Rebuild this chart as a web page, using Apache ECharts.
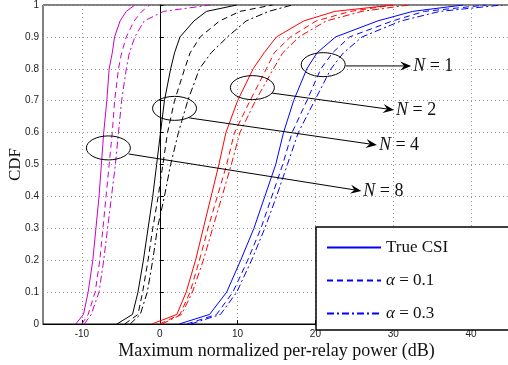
<!DOCTYPE html>
<html>
<head>
<meta charset="utf-8">
<script src="https://cdn.jsdelivr.net/npm/echarts@6/dist/echarts.min.js"></script>
<style>
  html, body { margin: 0; padding: 0; background: #fff; }
  #main { width: 508px; height: 365px; }
</style>
</head>
<body>
<div id="main"></div>
<script>
// CDF levels shared by every curve
const cdfLevels = [0, 0.03, 0.1, 0.2, 0.3, 0.4, 0.5, 0.6, 0.7, 0.8, 0.85, 0.9, 0.95, 0.98, 1];

// power (dB) at each CDF level
const n8True  = [-10.8, -9.8, -9.2, -8.6, -8.2, -7.8, -7.5, -7.2, -6.8, -6.5, -6.1, -5.8, -5.1, -4.3, -3.2];
const n8A01   = [-10.0, -9.2, -8.3, -7.7, -7.3, -6.9, -6.5, -6.1, -5.8, -5.3, -4.9, -4.3, -3.3, -2.3, -1.3];
const n8A03   = [-9.7, -8.8, -7.8, -7.2, -6.7, -6.2, -5.7, -5.3, -4.9, -4.3, -3.9, -3.2, -2.0, 0.5, 6.5];

const n4True  = [-5.5, -3.5, -2.8, -2.1, -1.5, -0.9, -0.4, 0.1, 0.6, 1.4, 1.9, 2.6, 4.4, 6.0, 9.9];
const n4A01   = [-4.5, -2.8, -2.2, -1.5, -0.9, -0.2, 0.4, 1.0, 1.9, 3.2, 3.9, 5.2, 7.7, 10.3, 14.5];
const n4A03   = [-3.8, -2.5, -1.6, -0.9, -0.3, 0.6, 1.4, 2.4, 3.6, 5.1, 6.6, 8.7, 11.1, 14.0, 17.0];

const n2True  = [-1.0, 2.2, 3.4, 4.6, 5.6, 6.6, 7.6, 8.5, 10.0, 12.0, 13.4, 15.0, 18.5, 22.5, 30.0];
const n2A01   = [0.0, 2.6, 3.9, 5.1, 6.2, 7.4, 8.6, 9.6, 11.6, 13.7, 14.7, 16.8, 20.1, 24.5, 30.0];
const n2A03   = [0.3, 2.8, 4.2, 5.6, 6.8, 8.0, 9.2, 10.3, 12.3, 14.6, 15.8, 17.9, 21.4, 26.0, 32.0];

const n1True  = [2.5, 6.4, 8.6, 10.4, 12.1, 13.5, 14.9, 15.9, 17.2, 18.9, 20.2, 22.6, 28.0, 32.5, 39.0];
const n1A01   = [3.5, 7.3, 9.4, 11.3, 13.0, 14.4, 15.8, 17.0, 18.9, 20.7, 22.2, 24.4, 29.9, 34.0, 42.0];
const n1A03   = [4.0, 7.8, 9.9, 11.8, 13.5, 15.0, 16.4, 17.8, 19.9, 22.0, 23.6, 26.0, 31.0, 36.0, 44.0];

const xTicks = [-10, 0, 10, 20, 30, 40];
const legendNames = ['True CSI', 'α = 0.1', 'α = 0.3'];

// annotations: ellipse centre, arrow start, arrow tip (data coords)
const annLabels = ['N = 1', 'N = 2', 'N = 4', 'N = 8'];
const annCentre = [[21.0, 0.813], [11.9, 0.741], [1.9, 0.676], [-6.6, 0.552]];
const annStart  = [[23.9, 0.809], [14.4, 0.724], [3.8, 0.646], [-4.0, 0.533]];
const annTip    = [[32.3, 0.809], [30.1, 0.671], [27.9, 0.561], [25.9, 0.417]];

const DASH = [6, 4];
const DASHDOT = [7, 3, 2, 3];

function pairs(xs) {
    return cdfLevels.map((p, i) => [xs[i], p]);
}
function line(name, xs, color, type) {
    return {
        name: name,
        type: 'line',
        data: pairs(xs),
        symbol: 'none',
        showSymbol: false,
        silent: true,
        lineStyle: { width: 1, color: color, type: type },
        itemStyle: { color: color }
    };
}

const MAG = '#c800c8';
const series = [
    line('n8 true', n8True, MAG, 'solid'),
    line('n8 a01', n8A01, MAG, DASH),
    line('n8 a03', n8A03, MAG, DASHDOT),
    line('n4 true', n4True, '#000', 'solid'),
    line('n4 a01', n4A01, '#000', DASH),
    line('n4 a03', n4A03, '#000', DASHDOT),
    line('n2 true', n2True, '#ff0000', 'solid'),
    line('n2 a01', n2A01, '#ff0000', DASH),
    line('n2 a03', n2A03, '#ff0000', DASHDOT),
    line(legendNames[0], n1True, '#0000ff', 'solid'),
    line(legendNames[1], n1A01, '#0000ff', DASH),
    line(legendNames[2], n1A03, '#0000ff', DASHDOT)
];

const gridLine = { show: true, lineStyle: { color: '#9a9a9a', type: [1, 3], width: 1 } };
const serif = 'Liberation Serif';

const myChart = echarts.init(document.getElementById('main'), null, { renderer: 'canvas' });
const option = {
    animation: false,
    backgroundColor: '#fff',
    grid: {
        left: 43, top: 5, right: -2, bottom: 41,
        outerBoundsMode: 'none',
        containLabel: false,
        show: true, borderColor: '#000', borderWidth: 1, backgroundColor: 'transparent'
    },
    xAxis: {
        type: 'value',
        min: -15, max: 45,
        name: 'Maximum normalized per-relay power (dB)',
        nameLocation: 'middle',
        nameGap: 18,
        nameMoveOverlap: false,
        nameTextStyle: { fontFamily: serif, fontSize: 18, color: '#111' },
        axisLine: { show: true, onZero: false, lineStyle: { color: '#000', width: 1 } },
        axisTick: { show: true, inside: true, length: 4, customValues: xTicks, lineStyle: { color: '#000' } },
        axisLabel: {
            customValues: xTicks, margin: 5,
            fontFamily: 'Liberation Sans', fontSize: 10, color: '#222',
            formatter: v => String(v)
        },
        splitLine: gridLine
    },
    yAxis: {
        type: 'value',
        min: 0, max: 1, interval: 0.1,
        name: 'CDF',
        nameLocation: 'middle',
        nameGap: 19,
        nameMoveOverlap: false,
        nameTextStyle: { fontFamily: serif, fontSize: 17, color: '#111' },
        axisLine: { show: true, lineStyle: { color: '#000', width: 1 } },
        axisTick: { show: true, inside: true, length: 4, lineStyle: { color: '#000' } },
        axisLabel: {
            margin: 4,
            fontFamily: 'Liberation Sans', fontSize: 10, color: '#222',
            formatter: v => (v === 0 || v === 1) ? String(v) : v.toFixed(1)
        },
        splitLine: gridLine
    },
    legend: {
        data: legendNames,
        orient: 'vertical',
        left: 316, top: 227,
        padding: [12, 80, 8, 10],
        itemWidth: 54, itemHeight: 14, itemGap: 16,
        backgroundColor: '#fff',
        borderColor: '#000', borderWidth: 1.5, borderRadius: 0,
        selectedMode: false,
        itemStyle: { opacity: 0 },
        formatter: name => name.startsWith('α') ? '{i|α}' + name.slice(1) : name,
        textStyle: {
            fontFamily: serif, fontSize: 17, color: '#111',
            rich: { i: { fontFamily: serif, fontSize: 17, fontStyle: 'italic', color: '#111' } }
        }
    },
    series: series
};
myChart.setOption(option);

// annotations: ellipse, arrow line, arrow head, label
function annotations() {
    const els = [];
    for (let i = 0; i < annLabels.length; i++) {
        const c = myChart.convertToPixel({ gridIndex: 0 }, annCentre[i]);
        const s = myChart.convertToPixel({ gridIndex: 0 }, annStart[i]);
        const t = myChart.convertToPixel({ gridIndex: 0 }, annTip[i]);
        els.push({
            type: 'ellipse',
            shape: { cx: c[0], cy: c[1], rx: 22, ry: 12 },
            style: { fill: 'none', stroke: '#000', lineWidth: 1 },
            z: 100
        });
        const dx = t[0] - s[0], dy = t[1] - s[1];
        const len = Math.sqrt(dx * dx + dy * dy);
        const ux = dx / len, uy = dy / len;
        const px = -uy, py = ux;
        const hl = 11, hw = 4.5, notch = 7;
        els.push({
            type: 'line',
            shape: { x1: s[0], y1: s[1], x2: t[0] - ux * notch, y2: t[1] - uy * notch },
            style: { stroke: '#000', lineWidth: 1 },
            z: 100
        });
        els.push({
            type: 'polygon',
            shape: {
                points: [
                    [t[0], t[1]],
                    [t[0] - ux * hl + px * hw, t[1] - uy * hl + py * hw],
                    [t[0] - ux * notch, t[1] - uy * notch],
                    [t[0] - ux * hl - px * hw, t[1] - uy * hl - py * hw]
                ]
            },
            style: { fill: '#000' },
            z: 100
        });
        const lab = annLabels[i];
        els.push({
            type: 'text',
            x: t[0] + 2, y: t[1],
            style: {
                text: '{i|N}' + lab.slice(1),
                rich: { i: { fontFamily: serif, fontSize: 18, fontStyle: 'italic', fill: '#111' } },
                font: '18px "Liberation Serif"',
                fill: '#111',
                verticalAlign: 'middle',
                align: 'left'
            },
            z: 100
        });
    }
    return els;
}
myChart.setOption({ graphic: annotations() });
</script>
</body>
</html>
